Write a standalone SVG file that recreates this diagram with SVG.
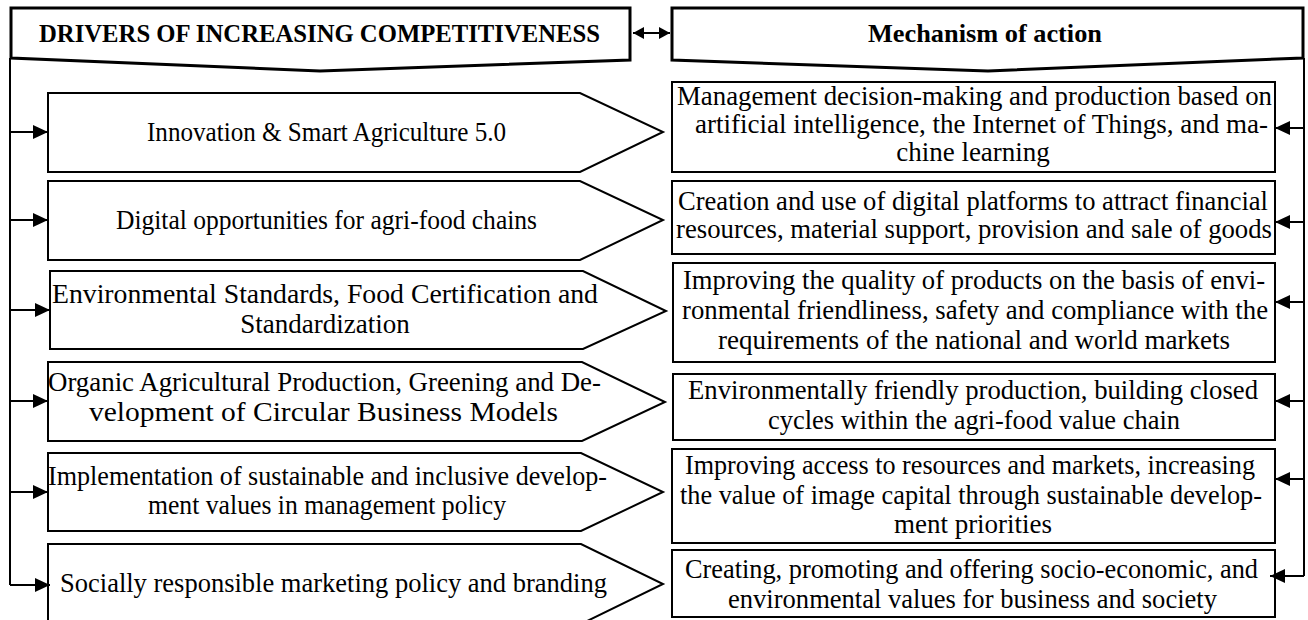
<svg xmlns="http://www.w3.org/2000/svg" width="1308" height="620" viewBox="0 0 1308 620">
  <style>
    .hdr { fill: #fff; stroke: #000; stroke-width: 3; stroke-linejoin: miter; }
    .drv { fill: #fff; stroke: #000; stroke-width: 2; }
    .mech { fill: #fff; stroke: #000; stroke-width: 2; }
    .conn { fill: none; stroke: #000; stroke-width: 2; }
    .t { font-family: "Liberation Serif", "Times New Roman", serif; font-size: 27px; fill: #000; }
    .c { text-anchor: middle; }
    .th { font-family: "Liberation Serif", "Times New Roman", serif; font-size: 25px; font-weight: bold; fill: #000; }
  </style>
  <defs>
    <marker id="arrow" markerUnits="userSpaceOnUse" viewBox="0 0 15 14" refX="15" refY="7" markerWidth="15" markerHeight="14" orient="auto">
      <path d="M0,0 L15,7 L0,14 Z" fill="#000"/>
    </marker>
    <marker id="arrowSmall" markerUnits="userSpaceOnUse" viewBox="0 0 11 12" refX="11" refY="6" markerWidth="11" markerHeight="12" orient="auto-start-reverse">
      <path d="M0,0 L11,6 L0,12 Z" fill="#000"/>
    </marker>
  </defs>
  <rect width="1308" height="620" fill="#fff"/>

  <!-- column headers -->
  <g id="header-drivers">
    <path class="hdr" d="M11,8 H630 V60 L320,71 L11,58 Z"/>
    <text class="th" x="39" y="42" textLength="561" lengthAdjust="spacingAndGlyphs">DRIVERS OF INCREASING COMPETITIVENESS</text>
  </g>
  <g id="header-mechanism">
    <path class="hdr" d="M672,8 H1303 V58 L988,71 L672,60 Z"/>
    <text class="th" x="868" y="42" textLength="234" lengthAdjust="spacingAndGlyphs">Mechanism of action</text>
  </g>

  <!-- driver chevrons -->
  <g id="driver-1">
    <path class="drv" d="M48,93 H580 L663,132 L580,172 H48 Z"/>
    <text class="t" x="147" y="141" textLength="359" lengthAdjust="spacingAndGlyphs">Innovation &amp; Smart Agriculture 5.0</text>
  </g>
  <g id="driver-2">
    <path class="drv" d="M48,181 H580 L663,220 L580,260 H48 Z"/>
    <text class="t" x="116" y="229" textLength="421" lengthAdjust="spacingAndGlyphs">Digital opportunities for agri-food chains</text>
  </g>
  <g id="driver-3">
    <path class="drv" d="M50,271 H583 L666,311 L583,349 H50 Z"/>
    <text class="t" x="52" y="303" textLength="546" lengthAdjust="spacingAndGlyphs">Environmental Standards, Food Certification and</text>
    <text class="t c" x="325" y="333">Standardization</text>
  </g>
  <g id="driver-4">
    <path class="drv" d="M48,362 H582 L665,402 L582,441 H48 Z"/>
    <text class="t" x="48" y="391" textLength="553" lengthAdjust="spacingAndGlyphs">Organic Agricultural Production, Greening and De-</text>
    <text class="t" x="89" y="421" textLength="469" lengthAdjust="spacingAndGlyphs">velopment of Circular Business Models</text>
  </g>
  <g id="driver-5">
    <path class="drv" d="M48,453 H581 L663,492 L581,531 H48 Z"/>
    <text class="t" x="48" y="485" textLength="559" lengthAdjust="spacingAndGlyphs">Implementation of sustainable and inclusive develop-</text>
    <text class="t" x="148" y="514" textLength="358" lengthAdjust="spacingAndGlyphs">ment values in management policy</text>
  </g>
  <g id="driver-6">
    <path class="drv" d="M48,544 H581 L663,584 L581,624 H48 Z"/>
    <text class="t" x="60" y="592" textLength="547" lengthAdjust="spacingAndGlyphs">Socially responsible marketing policy and branding</text>
  </g>

  <!-- mechanism boxes -->
  <g id="mechanism-1">
    <rect class="mech" x="672" y="82" width="603" height="90"/>
    <text class="t" x="677" y="105" textLength="595" lengthAdjust="spacingAndGlyphs">Management decision-making and production based on</text>
    <text class="t" x="695" y="133" textLength="573" lengthAdjust="spacingAndGlyphs">artificial intelligence, the Internet of Things, and ma-</text>
    <text class="t c" x="973" y="161">chine learning</text>
  </g>
  <g id="mechanism-2">
    <rect class="mech" x="672" y="181" width="603" height="73"/>
    <text class="t" x="678" y="210" textLength="590" lengthAdjust="spacingAndGlyphs">Creation and use of digital platforms to attract financial</text>
    <text class="t" x="676" y="238" textLength="596" lengthAdjust="spacingAndGlyphs">resources, material support, provision and sale of goods</text>
  </g>
  <g id="mechanism-3">
    <rect class="mech" x="673" y="263" width="602" height="99"/>
    <text class="t" x="683" y="289" textLength="582" lengthAdjust="spacingAndGlyphs">Improving the quality of products on the basis of envi-</text>
    <text class="t" x="682" y="319" textLength="586" lengthAdjust="spacingAndGlyphs">ronmental friendliness, safety and compliance with the</text>
    <text class="t" x="718" y="349" textLength="512" lengthAdjust="spacingAndGlyphs">requirements of the national and world markets</text>
  </g>
  <g id="mechanism-4">
    <rect class="mech" x="673" y="374" width="602" height="66"/>
    <text class="t" x="688" y="399" textLength="570" lengthAdjust="spacingAndGlyphs">Environmentally friendly production, building closed</text>
    <text class="t" x="768" y="429" textLength="412" lengthAdjust="spacingAndGlyphs">cycles within the agri-food value chain</text>
  </g>
  <g id="mechanism-5">
    <rect class="mech" x="672" y="449" width="603" height="94"/>
    <text class="t" x="685" y="474" textLength="570" lengthAdjust="spacingAndGlyphs">Improving access to resources and markets, increasing</text>
    <text class="t" x="680" y="504" textLength="582" lengthAdjust="spacingAndGlyphs">the value of image capital through sustainable develop-</text>
    <text class="t c" x="973" y="533">ment priorities</text>
  </g>
  <g id="mechanism-6">
    <rect class="mech" x="672" y="550" width="603" height="67"/>
    <text class="t" x="685" y="578" textLength="573" lengthAdjust="spacingAndGlyphs">Creating, promoting and offering socio-economic, and</text>
    <text class="t" x="728" y="608" textLength="489" lengthAdjust="spacingAndGlyphs">environmental values for business and society</text>
  </g>

  <!-- connectors -->
  <g id="connectors">
    <line class="conn" x1="633" y1="33" x2="670" y2="33" marker-start="url(#arrowSmall)" marker-end="url(#arrowSmall)"/>
    <path class="conn" d="M10,58 V585"/>
    <line class="conn" x1="10" y1="132" x2="48" y2="132" marker-end="url(#arrow)"/>
    <line class="conn" x1="10" y1="220" x2="48" y2="220" marker-end="url(#arrow)"/>
    <line class="conn" x1="10" y1="310" x2="50" y2="310" marker-end="url(#arrow)"/>
    <line class="conn" x1="10" y1="401" x2="48" y2="401" marker-end="url(#arrow)"/>
    <line class="conn" x1="10" y1="492" x2="48" y2="492" marker-end="url(#arrow)"/>
    <line class="conn" x1="10" y1="585" x2="50" y2="585" marker-end="url(#arrow)"/>
    <path class="conn" d="M1304,58 V576"/>
    <line class="conn" x1="1304" y1="128" x2="1275" y2="128" marker-end="url(#arrow)"/>
    <line class="conn" x1="1304" y1="222" x2="1275" y2="222" marker-end="url(#arrow)"/>
    <line class="conn" x1="1304" y1="302" x2="1275" y2="302" marker-end="url(#arrow)"/>
    <line class="conn" x1="1304" y1="401" x2="1275" y2="401" marker-end="url(#arrow)"/>
    <line class="conn" x1="1304" y1="479" x2="1275" y2="479" marker-end="url(#arrow)"/>
    <line class="conn" x1="1304" y1="576" x2="1270" y2="576" marker-end="url(#arrow)"/>
  </g>
</svg>
